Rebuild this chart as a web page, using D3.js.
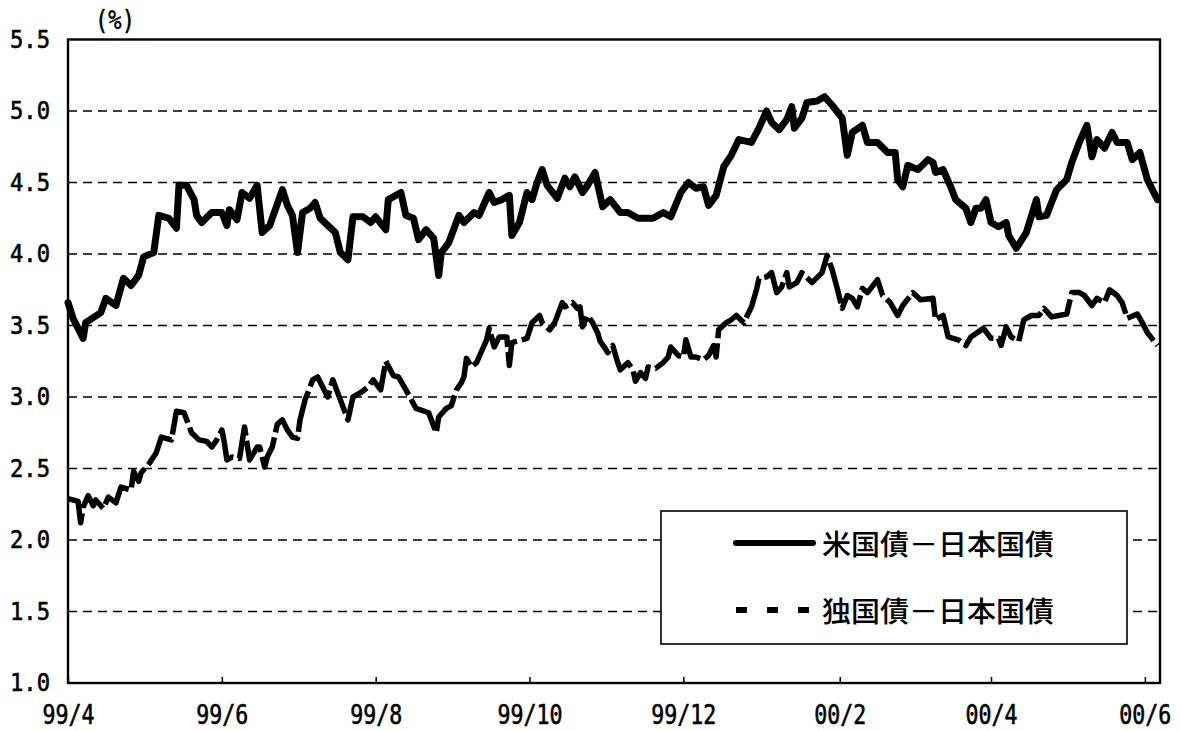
<!DOCTYPE html>
<html>
<head>
<meta charset="utf-8">
<script src="https://cdn.jsdelivr.net/npm/d3@7"></script>
<style>
  html, body { margin: 0; padding: 0; background: #fff; }
  svg { display: block; }
</style>
</head>
<body>
<svg id="chart" width="1181" height="731"></svg>
<script>
// ---------- data ----------
const seriesNames = ["米国債－日本国債", "独国債－日本国債"];

const usDates = [
"99-04-01","99-04-03","99-04-07","99-04-08","99-04-14","99-04-16","99-04-20","99-04-23","99-04-26","99-04-29",
"99-05-01","99-05-05","99-05-07","99-05-11","99-05-14","99-05-15","99-05-18","99-05-21","99-05-22","99-05-24","99-05-28",
"99-06-01","99-06-03","99-06-04","99-06-07","99-06-09","99-06-12","99-06-15","99-06-17","99-06-20","99-06-25","99-06-27","99-06-29",
"99-07-01","99-07-03","99-07-06","99-07-08","99-07-10","99-07-13","99-07-16","99-07-18","99-07-21","99-07-23","99-07-27","99-07-30",
"99-08-01","99-08-05","99-08-06","99-08-11","99-08-13","99-08-16","99-08-18","99-08-21","99-08-24","99-08-26","99-08-27","99-08-30",
"99-09-03","99-09-05","99-09-09","99-09-11","99-09-15","99-09-17","99-09-20","99-09-23","99-09-24","99-09-27","99-09-30",
"99-10-02","99-10-04","99-10-06","99-10-08","99-10-12","99-10-15","99-10-17","99-10-19","99-10-22","99-10-24","99-10-27","99-10-30",
"99-11-02","99-11-06","99-11-09","99-11-13","99-11-19","99-11-23","99-11-26","99-11-30",
"99-12-03","99-12-06","99-12-09","99-12-11","99-12-14","99-12-17","99-12-20","99-12-23","99-12-28","99-12-31",
"00-01-03","00-01-05","00-01-08","00-01-11","00-01-13","00-01-14","00-01-17","00-01-19","00-01-23","00-01-26","00-01-29",
"00-02-02","00-02-04","00-02-06","00-02-10","00-02-12","00-02-16","00-02-20","00-02-23","00-02-24","00-02-26","00-02-28",
"00-03-03","00-03-07","00-03-09","00-03-10","00-03-13","00-03-16","00-03-18","00-03-22","00-03-24","00-03-26","00-03-28","00-03-30",
"00-04-01","00-04-04","00-04-07","00-04-08","00-04-11","00-04-15","00-04-19","00-04-20","00-04-23","00-04-25","00-04-27",
"00-05-01","00-05-03","00-05-06","00-05-09","00-05-11","00-05-13","00-05-16","00-05-19","00-05-21","00-05-25","00-05-27","00-05-30",
"00-06-02","00-06-06"
];
const usValues = [
3.66,3.55,3.41,3.52,3.59,3.69,3.64,3.83,3.78,3.85,
3.98,4.01,4.27,4.25,4.18,4.48,4.48,4.38,4.27,4.22,4.29,
4.29,4.20,4.31,4.24,4.43,4.39,4.48,4.15,4.20,4.45,4.34,4.27,
4.01,4.29,4.32,4.36,4.25,4.20,4.15,4.01,3.96,4.26,4.26,4.22,
4.26,4.17,4.38,4.43,4.27,4.25,4.10,4.17,4.11,3.85,4.01,4.08,
4.27,4.22,4.29,4.27,4.43,4.36,4.38,4.41,4.13,4.22,4.43,
4.38,4.50,4.59,4.48,4.39,4.53,4.47,4.54,4.43,4.48,4.57,4.33,
4.38,4.29,4.29,4.25,4.25,4.29,4.26,4.43,
4.50,4.46,4.47,4.34,4.41,4.61,4.69,4.80,4.78,4.88,
5.00,4.92,4.87,4.94,5.03,4.88,4.95,5.06,5.07,5.10,5.04,
4.95,4.69,4.85,4.90,4.78,4.78,4.71,4.71,4.52,4.47,4.62,
4.59,4.66,4.64,4.57,4.59,4.47,4.38,4.32,4.22,4.32,4.32,4.38,
4.22,4.19,4.22,4.13,4.04,4.15,4.38,4.26,4.27,4.36,4.45,
4.52,4.64,4.78,4.90,4.68,4.80,4.74,4.85,4.78,4.78,4.66,4.71,
4.52,4.38
];

const deDates = [
"99-04-01","99-04-05","99-04-06","99-04-07","99-04-09","99-04-11","99-04-12","99-04-15","99-04-17","99-04-20","99-04-22","99-04-26","99-04-27","99-04-29","99-04-30",
"99-05-03","99-05-06","99-05-08","99-05-12","99-05-14","99-05-17","99-05-20","99-05-23","99-05-26","99-05-28","99-05-30",
"99-06-01","99-06-02","99-06-03","99-06-05","99-06-08","99-06-09","99-06-10","99-06-12","99-06-15","99-06-16","99-06-18","99-06-19","99-06-21","99-06-23","99-06-25","99-06-27","99-06-29",
"99-07-01","99-07-02","99-07-04","99-07-06","99-07-07","99-07-09","99-07-13","99-07-15","99-07-18","99-07-21","99-07-23","99-07-26","99-07-29","99-07-31",
"99-08-03","99-08-05","99-08-08","99-08-10","99-08-13","99-08-17","99-08-22","99-08-25","99-08-26","99-08-29","99-08-31",
"99-09-02","99-09-04","99-09-05","99-09-06","99-09-08","99-09-10","99-09-12","99-09-14","99-09-15","99-09-17","99-09-19","99-09-22","99-09-23","99-09-24","99-09-28","99-09-30",
"99-10-02","99-10-05","99-10-06","99-10-09","99-10-11","99-10-14","99-10-15","99-10-18","99-10-20","99-10-21","99-10-22","99-10-24","99-10-26","99-10-28","99-10-29","99-10-31",
"99-11-01","99-11-03","99-11-05","99-11-06","99-11-09","99-11-11","99-11-12","99-11-14","99-11-16","99-11-17","99-11-20","99-11-23","99-11-25","99-11-26","99-11-29",
"99-12-01","99-12-02","99-12-04","99-12-06","99-12-09","99-12-11","99-12-13","99-12-14","99-12-15","99-12-18","99-12-20","99-12-22","99-12-25","99-12-28","99-12-30","99-12-31",
"00-01-03","00-01-05","00-01-06","00-01-07","00-01-09","00-01-11","00-01-12","00-01-15","00-01-17","00-01-21","00-01-25","00-01-27","00-01-29","00-01-31",
"00-02-02","00-02-04","00-02-06","00-02-08","00-02-10","00-02-12","00-02-16","00-02-18","00-02-21","00-02-24","00-02-26",
"00-03-01","00-03-04","00-03-09","00-03-10","00-03-13","00-03-15","00-03-19","00-03-22","00-03-24","00-03-29",
"00-04-01","00-04-04","00-04-05","00-04-07","00-04-09","00-04-12","00-04-14","00-04-17","00-04-20","00-04-22","00-04-25",
"00-05-01","00-05-03","00-05-06","00-05-08","00-05-11","00-05-13","00-05-16","00-05-18","00-05-21","00-05-23","00-05-25","00-05-29","00-05-31",
"00-06-02","00-06-06"
];
const deValues = [
2.29,2.27,2.12,2.23,2.31,2.24,2.28,2.22,2.30,2.26,2.37,2.35,2.48,2.41,2.47,
2.53,2.61,2.72,2.70,2.90,2.89,2.75,2.70,2.69,2.65,2.70,
2.77,2.68,2.56,2.58,2.57,2.68,2.79,2.56,2.65,2.65,2.51,2.58,2.65,2.81,2.84,2.77,2.72,
2.71,2.84,2.98,3.07,3.12,3.14,3.00,3.12,2.98,2.84,3.00,3.03,3.07,3.12,
3.05,3.25,3.15,3.14,3.05,2.92,2.89,2.75,2.86,2.92,2.94,
3.05,3.10,3.14,3.27,3.21,3.24,3.32,3.40,3.48,3.35,3.42,3.42,3.22,3.38,3.40,3.41,
3.52,3.57,3.52,3.47,3.52,3.66,3.63,3.66,3.62,3.63,3.49,3.57,3.52,3.45,3.39,3.34,
3.31,3.36,3.24,3.19,3.24,3.19,3.11,3.17,3.13,3.21,3.20,3.24,3.28,3.35,3.29,
3.28,3.40,3.28,3.28,3.26,3.29,3.36,3.28,3.47,3.52,3.54,3.57,3.52,3.63,3.75,3.83,
3.84,3.87,3.80,3.73,3.77,3.87,3.77,3.80,3.87,3.80,3.87,3.99,3.89,3.76,
3.62,3.71,3.69,3.63,3.76,3.73,3.82,3.71,3.66,3.57,3.64,
3.73,3.68,3.69,3.54,3.57,3.42,3.40,3.36,3.42,3.48,
3.41,3.41,3.36,3.49,3.42,3.39,3.54,3.57,3.57,3.62,3.56,
3.58,3.73,3.73,3.71,3.64,3.69,3.66,3.75,3.71,3.66,3.55,3.58,3.52,
3.45,3.36
];

const yTickValues = [1.0, 1.5, 2.0, 2.5, 3.0, 3.5, 4.0, 4.5, 5.0, 5.5];
const xTickDates  = ["99-04-01","99-06-01","99-08-01","99-10-01","99-12-01","00-02-01","00-04-01","00-06-01"];
const xTickLabels = ["99/4","99/6","99/8","99/10","99/12","00/2","00/4","00/6"];
const xDomain = ["99-04-01","00-06-07"];
const unitLabel = "(%)";

// ---------- chart ----------
const parse = d3.timeParse("%y-%m-%d");
const svg = d3.select("#chart");
const L = 68, R = 1160, T = 39.5, B = 683;

const x = d3.scaleTime().domain(xDomain.map(parse)).range([L, R]);
const y = d3.scaleLinear().domain([1, 5.5]).range([B, T]);

svg.append("rect").attr("width", 1181).attr("height", 731).attr("fill", "#fff");

// gridlines
svg.append("g").selectAll("line")
  .data(yTickValues.filter(v => v > 1 && v < 5.5))
  .join("line")
  .attr("x1", L).attr("x2", R)
  .attr("y1", d => y(d)).attr("y2", d => y(d))
  .attr("stroke", "#000").attr("stroke-width", 1.6)
  .attr("stroke-dasharray", "9,6");

const us = usDates.map((d, i) => ({ date: parse(d), v: usValues[i] }));
const de = deDates.map((d, i) => ({ date: parse(d), v: deValues[i] }));

const line = d3.line().x(d => x(d.date)).y(d => y(d.v));

svg.append("path").datum(de)
  .attr("d", line).attr("fill", "none")
  .attr("stroke", "#000").attr("stroke-width", 5.5)
  .attr("stroke-linejoin", "round")
  .attr("stroke-dasharray", "42,5");

svg.append("path").datum(us)
  .attr("d", line).attr("fill", "none")
  .attr("stroke", "#000").attr("stroke-width", 7)
  .attr("stroke-linejoin", "round").attr("stroke-linecap", "round");

// legend
const lg = svg.append("g");
lg.append("rect").attr("x", 661).attr("y", 511).attr("width", 466).attr("height", 133)
  .attr("fill", "#fff").attr("stroke", "#000").attr("stroke-width", 1.6);
lg.append("line").attr("x1", 736).attr("x2", 813).attr("y1", 543).attr("y2", 543)
  .attr("stroke", "#000").attr("stroke-width", 6).attr("stroke-linecap", "round");
lg.append("line").attr("x1", 736).attr("x2", 810).attr("y1", 610).attr("y2", 610)
  .attr("stroke", "#000").attr("stroke-width", 6).attr("stroke-dasharray", "11,20");
lg.selectAll("text").data(seriesNames).join("text")
  .attr("x", 822).attr("y", (d, i) => i === 0 ? 543 : 610)
  .attr("dominant-baseline", "central")
  .attr("font-family", "'Noto Sans CJK JP', sans-serif")
  .attr("font-size", 28).attr("font-weight", 500).attr("fill", "#000")
  .attr("textLength", 232).attr("lengthAdjust", "spacingAndGlyphs")
  .text(d => d);

// frame
svg.append("rect").attr("x", L).attr("y", T).attr("width", R - L).attr("height", B - T)
  .attr("fill", "none").attr("stroke", "#000").attr("stroke-width", 2.4);

// axes
const monoFont = "'DejaVu Sans Mono', monospace";
const yAxis = d3.axisLeft(y).tickValues(yTickValues).tickFormat(d3.format(".1f"))
  .tickSize(0).tickPadding(18);
const gy = svg.append("g").attr("transform", `translate(${L},0)`).call(yAxis);
gy.select(".domain").remove();
gy.selectAll("text").attr("font-family", monoFont).attr("font-size", 24).attr("fill", "#000")
  .attr("stroke", "#000").attr("stroke-width", 0.6)
  .attr("textLength", 40).attr("lengthAdjust", "spacingAndGlyphs");

const xAxis = d3.axisBottom(x).tickValues(xTickDates.map(parse))
  .tickFormat((d, i) => xTickLabels[i]).tickSizeInner(-6).tickSizeOuter(0).tickPadding(23);
const gx = svg.append("g").attr("transform", `translate(0,${B})`).call(xAxis);
gx.select(".domain").remove();
gx.selectAll(".tick line").attr("stroke", "#000").attr("stroke-width", 1.5);
gx.selectAll("text").attr("font-family", monoFont).attr("font-size", 26).attr("fill", "#000")
  .attr("stroke", "#000").attr("stroke-width", 0.6)
  .attr("textLength", (d, i) => xTickLabels[i].length * 13).attr("lengthAdjust", "spacingAndGlyphs");

svg.append("text").attr("x", 115).attr("y", 20).attr("text-anchor", "middle")
  .attr("dominant-baseline", "central")
  .attr("font-family", monoFont).attr("font-size", 26)
  .attr("stroke", "#000").attr("stroke-width", 0.5)
  .attr("textLength", 40).attr("lengthAdjust", "spacingAndGlyphs").text(unitLabel);
</script>
</body>
</html>
